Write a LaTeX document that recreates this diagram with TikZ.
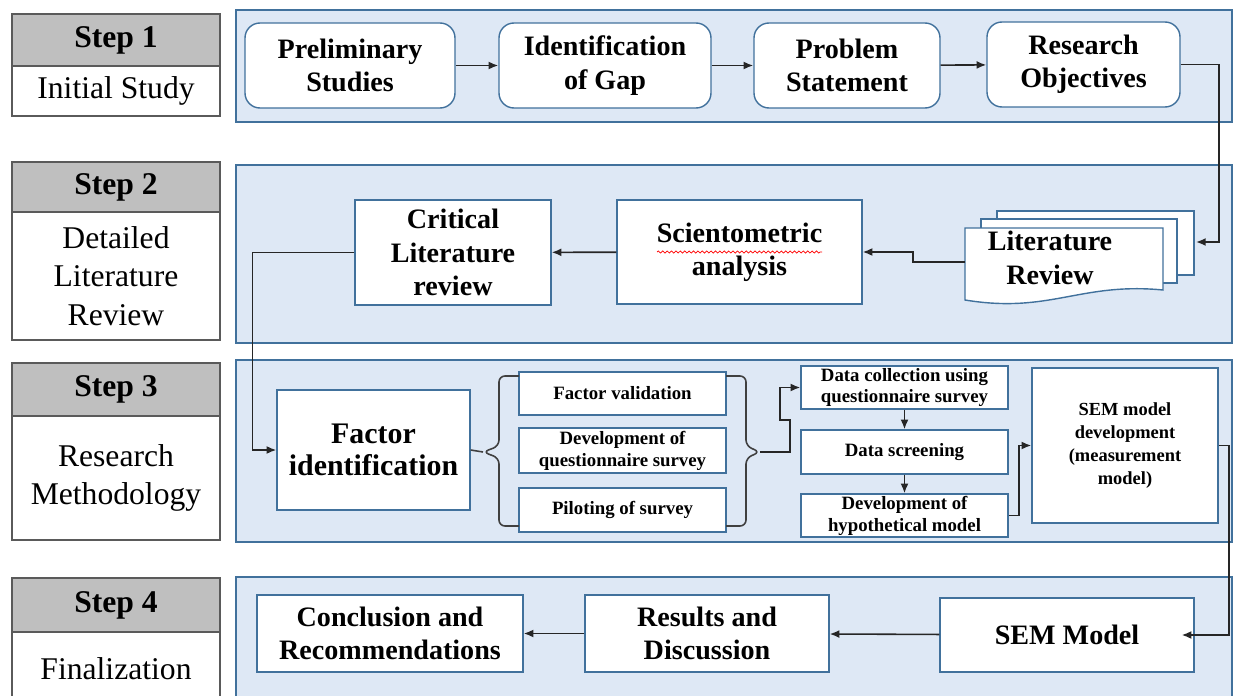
\documentclass[tikz,border=0pt]{standalone}
\usepackage{fontspec}
\setmainfont{Liberation Serif}
\usepackage{tikz}
\usetikzlibrary{arrows.meta, positioning, decorations.pathmorphing}
\definecolor{panelblue}{RGB}{222,232,245}
\definecolor{edgeblue}{RGB}{65,113,156}
\definecolor{headgray}{RGB}{191,191,191}
\definecolor{stepedge}{RGB}{90,90,90}

\begin{document}
\begin{tikzpicture}[x=0.02cm, y=-0.02cm, >={Latex[length=5.5pt,width=4.5pt]}]

    \tikzset{wh/.style 2 args={minimum width=#1*0.02cm, minimum height=#2*0.02cm}}
    \tikzstyle{panel}=[fill=panelblue, draw=edgeblue, line width=0.8pt]
    \tikzstyle{stephead}=[draw=stepedge, fill=headgray, line width=1pt, inner sep=0pt, font=\bfseries\fontsize{18}{22}\selectfont]
    \tikzstyle{stepbody}=[draw=stepedge, fill=white, line width=1pt, inner sep=0pt, align=center, font=\fontsize{18}{22}\selectfont]
    \tikzstyle{rbox}=[draw=edgeblue, fill=white, line width=0.8pt, rounded corners=0.3cm, inner sep=0pt, align=center, font=\bfseries\fontsize{16}{19}\selectfont]
    \tikzstyle{sbox}=[rbox, sharp corners]
    \tikzstyle{tinybox}=[sbox, font=\bfseries\fontsize{10.7}{12.5}\selectfont]
    \tikzstyle{page}=[fill=white, draw=edgeblue, line width=0.8pt]
    \tikzstyle{link}=[->, line width=0.9pt, black!85]
    \tikzstyle{bracket}=[line width=0.9pt, black!75, rounded corners=0.12cm]

    \useasboundingbox (0,0) rectangle (1235,696);

    % blue panels
    \filldraw[panel] (236,10) rectangle (1232,122);
    \filldraw[panel] (236,165) rectangle (1232,343);
    \filldraw[panel] (236,360) rectangle (1232,542);
    \filldraw[panel] (236,577) rectangle (1232,710);

    % step column
    \node[stephead, wh={208}{52}] (s1h) at (116,40) {Step 1};
    \node[stepbody, wh={208}{50}] (s1b) at (116,91) {Initial Study};
    \node[stephead, wh={208}{50}] (s2h) at (116,187) {Step 2};
    \node[stepbody, wh={208}{128}] (s2b) at (116,276) {Detailed\\Literature\\Review};
    \node[stephead, wh={208}{53}] (s3h) at (116,389.5) {Step 3};
    \node[stepbody, wh={208}{124}] (s3b) at (116,478) {Research\\Methodology};
    \node[stephead, wh={208}{54}] (s4h) at (116,605) {Step 4};
    \node[stepbody, wh={208}{74}] (s4b) at (116,669) {Finalization};

    % step 1
    \node[rbox, wh={210}{85}] (prelim) at (350,65.5) {Preliminary\\Studies};
    \node[rbox, wh={212}{85}] (gap) at (605,65.5) {Identification\\of Gap};
    \node[rbox, wh={186}{85}] (problem) at (847,65.5) {Problem\\Statement};
    \node[rbox, wh={193}{85}] (objectives) at (1083.5,64.5) {Research\\Objectives};

    % step 2
    \node[sbox, wh={196}{105}] (critical) at (453,252.5) {Critical\\Literature\\review};
    \node[sbox, wh={245}{104}] (sciento) at (739.5,252) {Scientometric\\analysis};
    \draw[red, line width=0.4pt, decorate, decoration={snake, amplitude=0.6pt, segment length=2.5pt}] (657,252) -- (822,252);

    \filldraw[page] (997,211) rectangle (1194,275);
    \filldraw[page] (981,219) rectangle (1177,283);
    \filldraw[page] (965,228) -- (1163,228) -- (1163,290)
        .. controls (1080,282) and (1050,314) .. (965,300) -- cycle;
    \node[font=\bfseries\fontsize{16}{19}\selectfont, align=center] (litrev) at (1050,258) {Literature\\Review};
    \coordinate (litin) at (1196,242);
    \coordinate (litout) at (965,262);

    % step 3
    \node[sbox, wh={193}{120}, font=\bfseries\fontsize{17}{18.5}\selectfont] (factor) at (373.5,450) {Factor\\identification};
    \node[tinybox, wh={207}{43}] (fval) at (622.5,393.5) {Factor validation};
    \node[tinybox, wh={207}{45}] (fdev) at (622.5,450.5) {Development of\\questionnaire survey};
    \node[tinybox, wh={207}{44}] (fpilot) at (622.5,510) {Piloting of survey};
    \coordinate (lbrace) at (483,452);
    \coordinate (rbrace) at (760,452);
    \draw[bracket] (519,376) -- (499,376) -- (499,446) -- (lbrace) -- (499,458) -- (499,526) -- (519,526);
    \draw[bracket] (726,376) -- (746,376) -- (746,446) -- (rbrace) -- (746,458) -- (746,526) -- (726,526);

    \node[tinybox, wh={207}{43}] (dcoll) at (904.5,387.5) {Data collection using\\questionnaire survey};
    \node[tinybox, wh={207}{44}] (dscreen) at (904.5,452) {Data screening};
    \node[tinybox, wh={207}{43}] (dhypo) at (904.5,515.5) {Development of\\hypothetical model};
    \node[tinybox, wh={186}{155}, font=\bfseries\fontsize{10.5}{13}\selectfont] (semdev) at (1125,445.5) {SEM model\\development\\(measurement\\model)};

    % step 4
    \node[sbox, wh={266}{77}] (concl) at (390,633.5) {Conclusion and\\Recommendations};
    \node[sbox, wh={244}{77}] (results) at (707,633.5) {Results and\\Discussion};
    \node[sbox, wh={254}{74}] (sem) at (1067,635) {SEM Model};

    % connectors
    \draw[link] (prelim) -- (gap);
    \draw[link] (gap) -- (problem);
    \draw[link] (problem) -- (objectives);
    \draw[link] (objectives.east) -- ++(38,0) |- (litin);
    \draw[link] (litout) -- ++(-52,0) |- (sciento.east);
    \draw[link] (sciento) -- (critical);
    \draw[link] (critical.west) -- ++(-102,0) |- (factor.west);
    \draw[line width=0.9pt, black!75] (factor.east) -- (lbrace);
    \draw[link] (rbrace) -- ++(30,0) -- ++(0,-32) -- ++(-10,0) |- (dcoll.west);
    \draw[link] (dcoll) -- (dscreen);
    \draw[link] (dscreen) -- (dhypo);
    \draw[link] (dhypo.east) -- ++(10,0) |- (semdev.west);
    \draw[link, shorten >=-0.26cm] (semdev.east) -- ++(10,0) |- (sem.east);
    \draw[link] (sem) -- (results);
    \draw[link] (results) -- (concl);

\end{tikzpicture}
\end{document}
